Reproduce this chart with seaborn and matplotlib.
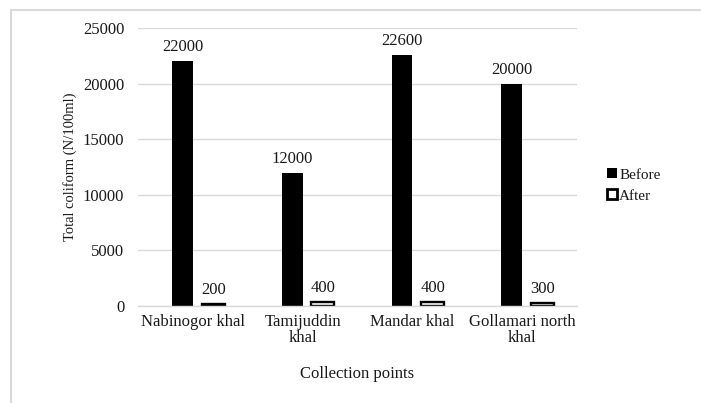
import matplotlib
matplotlib.use("Agg")
import matplotlib.pyplot as plt
import matplotlib.patches as mpatches
import seaborn as sns
import pandas as pd

# Data
sites = ["Nabinogor khal", "Tamijuddin\nkhal", "Mandar khal", "Gollamari north\nkhal"]
before = [22000, 12000, 22600, 20000]
after = [200, 400, 400, 300]
periods = ["Before", "After"]
yticks = [0, 5000, 10000, 15000, 20000, 25000]

df = pd.DataFrame({
    "site": sites * 2,
    "period": [periods[0]] * len(sites) + [periods[1]] * len(sites),
    "value": before + after,
})

sns.set_theme(style="white")
plt.rcParams["font.family"] = ["Liberation Serif", "DejaVu Serif"]
text_color = "#1a1a1a"
grid_color = "#d9d9d9"

fig = plt.figure(figsize=(7.01, 4.03), dpi=100)
ax = fig.add_axes([0.197, 0.2407, 0.626, 0.6898])

sns.barplot(data=df, x="site", y="value", hue="period", order=sites,
            hue_order=periods, palette={"Before": "black", "After": "white"},
            width=0.54, gap=0.25, ax=ax, legend=False, errorbar=None,
            saturation=1)

# Bar layout within each category: solid Before bar, hollow After bar
n = len(sites)
bar_specs = {0: (-0.19, 0.19), 1: (0.08, 0.21)}  # (left offset, width)
for i, patch in enumerate(ax.patches[:2 * n]):
    group, k = divmod(i, n)
    left, w = bar_specs[group]
    patch.set_x(k + left)
    patch.set_width(w)
    if group == 0:
        patch.set_facecolor("black")
        patch.set_edgecolor("black")
        patch.set_linewidth(0)
    else:
        patch.set_facecolor("white")
        patch.set_edgecolor("black")
        patch.set_linewidth(1.7)

# Value labels
for i, patch in enumerate(ax.patches[:2 * n]):
    val = (before + after)[i]
    ax.annotate(f"{val}", (patch.get_x() + patch.get_width() / 2, val),
                xytext=(0, 10), textcoords="offset points",
                ha="center", va="center", fontsize=12, color=text_color)

ax.set_ylim(0, 25000)
ax.set_yticks(yticks)
ax.set_yticklabels([str(t) for t in yticks])
ax.yaxis.grid(True, color=grid_color, linewidth=1)
ax.set_axisbelow(True)
for s in ["top", "right", "left"]:
    ax.spines[s].set_visible(False)
ax.spines["bottom"].set_color(grid_color)
ax.spines["bottom"].set_linewidth(1)
ax.tick_params(axis="both", length=0, labelsize=12, colors=text_color)
ax.tick_params(axis="y", pad=10)
ax.tick_params(axis="x", pad=6)
for lbl in ax.get_xticklabels():
    lbl.set_linespacing(1.0)

ax.set_xlabel("Collection points", fontsize=12, color=text_color, labelpad=14)
ax.set_ylabel("Total coliform (N/100ml)", fontsize=10.5, color=text_color, labelpad=4)

# Legend
handles = [
    mpatches.Patch(facecolor="black", edgecolor="black", linewidth=0, label="Before"),
    mpatches.Patch(facecolor="white", edgecolor="black", linewidth=2, label="After"),
]
fig.legend(handles=handles, loc="center left", bbox_to_anchor=(0.866, 0.54),
           frameon=False, fontsize=11, handlelength=0.65, handleheight=0.65,
           handletextpad=0.15, labelspacing=0.5, borderpad=0, borderaxespad=0,
           labelcolor=text_color)

# Outer chart frame (top and left edges visible)
fig.patches.append(mpatches.Rectangle((11 / 701, -0.2), 1.2, 0.2 + 1 - 10 / 403,
                                      transform=fig.transFigure, fill=False,
                                      edgecolor=grid_color, linewidth=1.5))

fig.savefig("out.png", dpi=100)
